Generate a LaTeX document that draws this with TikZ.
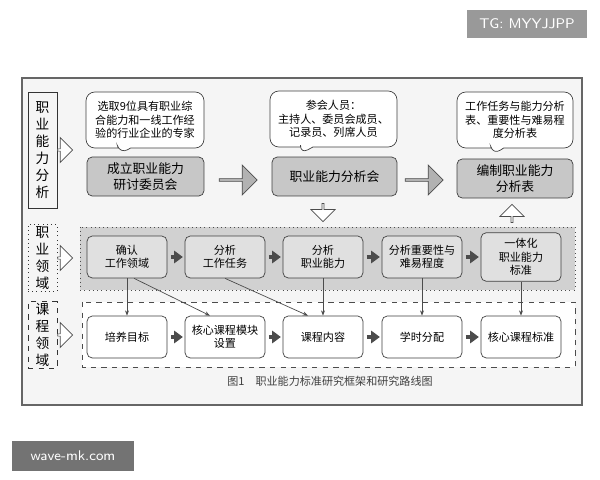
\documentclass[tikz,border=0pt]{standalone}
\usepackage{fontspec}
\setmainfont{Noto Sans CJK SC}
\usetikzlibrary{shapes.callouts,shapes.arrows,arrows.meta,positioning}
\begin{document}
\begin{tikzpicture}[x=0.02cm,y=-0.02cm,font=\fontsize{6.3}{7.6}\selectfont]
        \tikzstyle{every path}=[thin]
        \tikzstyle{step box}=[draw=black!75,rounded corners=3pt,align=center,minimum width=1.6cm,minimum height=0.84cm,fill=white]
        \tikzstyle{grey box}=[step box,fill=black!22,minimum width=2.34cm,minimum height=0.78cm,font=\fontsize{7.3}{8.8}\selectfont]
        \tikzstyle{note}=[rectangle callout,draw=black!75,rounded corners=5pt,align=center,fill=white,minimum width=2.36cm,minimum height=1.12cm,inner sep=1pt]
        \tikzstyle{side}=[draw=black!80,align=center,minimum width=0.58cm,inner sep=1pt,font=\fontsize{7.8}{9.6}\selectfont]
        \tikzstyle{hollow}=[single arrow,draw=black!70,fill=white,minimum height=0.36cm,minimum width=0.48cm,single arrow head extend=2pt,inner sep=0pt]
        \tikzstyle{big}=[single arrow,draw=black!70,fill=black!30,minimum height=0.76cm,minimum width=0.6cm,single arrow head extend=2pt,inner sep=0pt]
        \tikzstyle{flow}=[-{Triangle[length=5pt,width=7pt]},line width=2.2pt,black!70,shorten <=2pt,shorten >=1pt]
        \tikzstyle{link}=[-{Stealth[length=3pt]},black!70]

        \useasboundingbox (0,0) rectangle (600,480);
        \fill[white] (0,0) rectangle (600,480);
        \draw[black!60,fill=black!4,line width=1pt] (22,78) rectangle (582,405);

        % side labels
        \node[side,minimum height=2.32cm] (ana) at (42.5,150) {职\\业\\能\\力\\分\\析};
        \node[side,dotted,minimum height=1.34cm] (occ) at (42.5,258) {职\\业\\领\\域};
        \node[side,dashed,minimum height=1.32cm] (cur) at (42.5,335) {课\\程\\领\\域};
        \foreach \s in {ana,occ,cur}
            \node[hollow,minimum height=0.3cm,minimum width=0.5cm,anchor=tail] at (\s.east) {};

        % bands
        \draw[dotted,black!70,fill=black!18] (80,227) rectangle (575,290);
        \draw[dashed,black!70,fill=white] (82,302) rectangle (575,367);

        % top row
        \node[grey box] (comm) at (145.5,176.5) {成立职业能力\\研讨委员会};
        \node[grey box,minimum width=2.5cm] (meet) at (334.5,176.5) {职业能力分析会};
        \node[grey box,minimum width=2.32cm] (table) at (515,178.5) {编制职业能力\\分析表};
        \node[note,callout absolute pointer={(120,154)}] (n1) at (145,120) {选取9位具有职业综\\合能力和一线工作经\\验的行业企业的专家};
        \node[note,minimum width=2.54cm,callout absolute pointer={(300,154)}] (n2) at (333.5,119) {参会人员：\\主持人、委员会成员、\\记录员、列席人员};
        \node[note,minimum width=2.32cm,callout absolute pointer={(493,155)}] (n3) at (515,120) {工作任务与能力分析\\表、重要性与难易程\\度分析表};
        \node[big] (g1) at (237.5,180) {};
        \node[big] (g2) at (423.5,180) {};
        \node[hollow,shape border rotate=270] (down) at (323,212) {};
        \node[hollow,shape border rotate=90] (up) at (512,214) {};

        % middle and bottom rows
        \foreach \i/\x/\t/\b in {1/127/确认\\工作领域/培养目标,
                                 2/225/分析\\工作任务/核心课程模块\\设置,
                                 3/323/分析\\职业能力/课程内容,
                                 4/422/分析重要性与\\难易程度/学时分配,
                                 5/521/一体化\\职业能力\\标准/核心课程标准} {
            \node[step box,fill=black!12] (m\i) at (\x,257) {\t};
            \node[step box] (c\i) at (\x,337) {\b};
        }
        \foreach \a/\b in {1/2,2/3,3/4,4/5} {
            \draw[flow] (m\a) -- (m\b);
            \draw[flow] (c\a) -- (c\b);
        }
        \draw[link] (m1.south) -- (c1.north);
        \draw[link] ([xshift=4pt]m1.south) -- ([xshift=-0.3cm]c2.north);
        \draw[link] (m2.south) -- ([xshift=-0.3cm]c3.north);
        \draw[link] (m3.south) -- (c3.north);
        \draw[link] (m4.south) -- (c4.north);
        \draw[link] (m5.south) -- (c5.north);

        % caption and marks
        \node[font=\fontsize{6.3}{7}\selectfont,black!75] (cap) at (330,381) {图1\quad 职业能力标准研究框架和研究路线图};
        \node[fill=black!40,text=white,font=\fontsize{8}{9}\selectfont\sffamily,minimum width=2.4cm,minimum height=0.58cm] (tg) at (527,24) {TG: MYYJJPP};
        \node[fill=black!55,text=white,font=\fontsize{8}{9}\selectfont\sffamily,minimum width=2.44cm,minimum height=0.6cm] (web) at (73,456) {wave-mk.com};
\end{tikzpicture}
\end{document}
